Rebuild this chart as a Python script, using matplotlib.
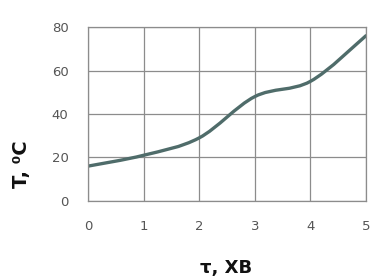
import numpy as np
import matplotlib
matplotlib.use("Agg")
import matplotlib.pyplot as plt
from matplotlib.path import Path
from matplotlib.patches import PathPatch

# data
tau = [0, 1, 2, 3, 4, 5]
temp = [16, 21, 29, 48, 55, 76]
xticks = [0, 1, 2, 3, 4, 5]
yticks = [0, 20, 40, 60, 80]


def smooth_path(x, y):
    # Catmull-Rom -> cubic Bezier segments (like a "smoothed line" chart)
    pts = np.column_stack([x, y]).astype(float)
    verts = [pts[0]]
    codes = [Path.MOVETO]
    n = len(pts)
    for i in range(n - 1):
        p0 = pts[i - 1] if i > 0 else pts[i]
        p1, p2 = pts[i], pts[i + 1]
        p3 = pts[i + 2] if i + 2 < n else pts[i + 1]
        c1 = p1 + (p2 - p0) / 6
        c2 = p2 - (p3 - p1) / 6
        verts += [c1, c2, p2]
        codes += [Path.CURVE4] * 3
    return Path(verts, codes)


fig = plt.figure(figsize=(3.7, 2.79), dpi=100)
ax = fig.add_axes([0.238, 0.28, 0.751, 0.623])

patch = PathPatch(smooth_path(tau, temp), facecolor="none",
                  edgecolor="#4f6c6a", lw=2.4, capstyle="round")
ax.add_patch(patch)

ax.set_xlim(0, 5)
ax.set_ylim(0, 80)
ax.set_xticks(xticks)
ax.set_yticks(yticks)
ax.grid(True, color="#8c8c8c", lw=0.9)
ax.set_axisbelow(True)
for s in ax.spines.values():
    s.set_color("#8c8c8c")
    s.set_linewidth(0.9)
ax.tick_params(length=0, colors="#555555", labelsize=9.5)
ax.tick_params(axis="x", pad=14)
ax.tick_params(axis="y", pad=14)

fig.text(0.058, 0.41, "T, \u2070C", rotation=90, fontsize=14,
         fontweight="bold", ha="center", va="center", color="#111111")
fig.text(0.612, 0.04, "\u03c4, ХВ", fontsize=13, fontweight="bold",
         ha="center", va="center", color="#111111")

fig.savefig("out.png", dpi=100)
